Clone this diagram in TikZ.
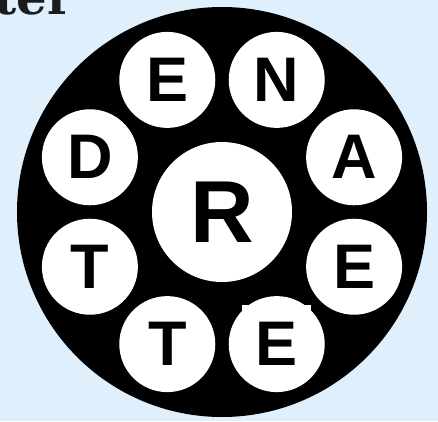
\documentclass[tikz,border=0pt]{standalone}
\usepackage{fontspec}
\setmainfont{Liberation Sans}
\newfontfamily\headfont{DejaVu Serif}
\usepackage{tikz}
\usetikzlibrary{calc}
\definecolor{skyback}{RGB}{223,240,252}
\definecolor{inkdark}{RGB}{28,28,28}

\begin{document}
\begin{tikzpicture}[
  x=1pt, y=1pt,
  disc/.style={circle, fill=black, inner sep=0pt, minimum size=410pt},
  hub/.style={circle, fill=white, inner sep=0pt, minimum size=140pt, font=\bfseries\fontsize{88}{88}\selectfont},
  tile/.style={circle, fill=white, inner sep=0pt, minimum size=96pt, font=\bfseries\fontsize{63}{63}\selectfont}
]
\fill[skyback] (0,0) rectangle (438,421);
\useasboundingbox (0,0) rectangle (438,421);
\clip (0,0) rectangle (438,421);

% heading, cut off by the top edge
\node[anchor=base east, inner sep=0pt, text=inkdark, font=\headfont\bfseries\fontsize{48}{48}\selectfont] (heading) at (73,406) {ter};

\node[disc] (ring) at (222,209) {};
\node[hub] (hub) at (ring) {R};

\node[tile] (e1) at ($(ring)+(112.5:143)$) {E};
\node[tile] (n1) at ($(ring)+(67.5:143)$) {N};
\node[tile] (a1) at ($(ring)+(22.5:143)$) {A};
\node[tile] (e2) at ($(ring)+(-22.5:143)$) {E};
\node[tile] (e3) at ($(ring)+(-67.5:143)$) {E};
\node[tile] (t1) at ($(ring)+(-112.5:143)$) {T};
\node[tile] (t2) at ($(ring)+(-157.5:143)$) {T};
\node[tile] (d1) at ($(ring)+(157.5:143)$) {D};

% white notch above the lower E
\fill[white] (242,109) rectangle (311,116);
\end{tikzpicture}
\end{document}
